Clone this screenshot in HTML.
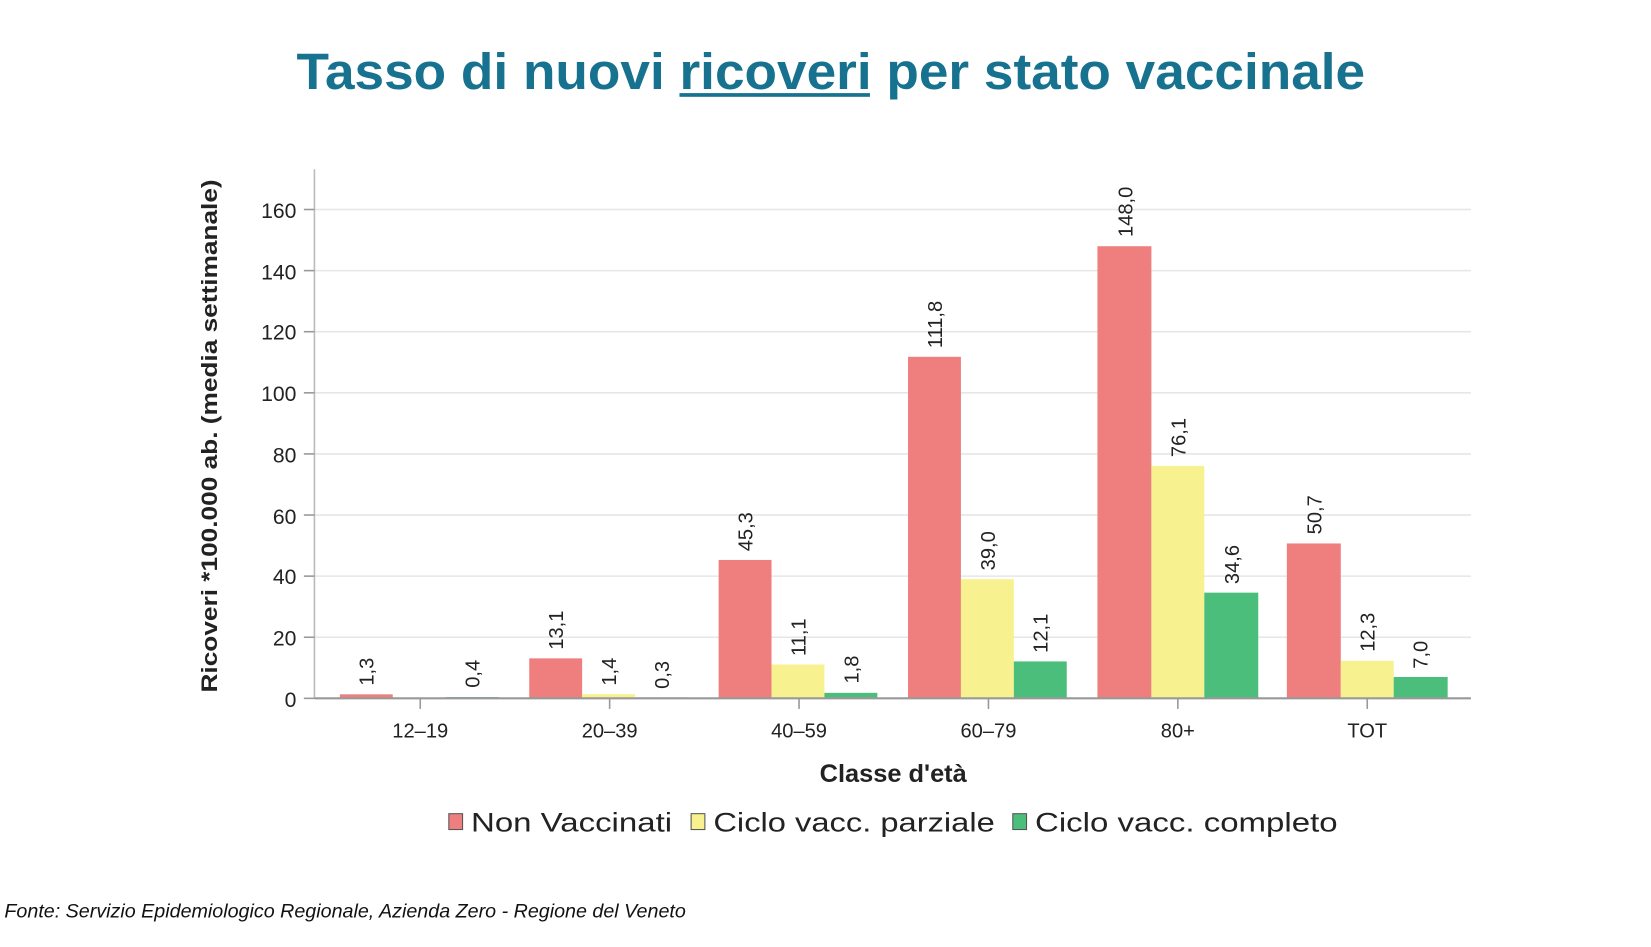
<!DOCTYPE html>
<html><head><meta charset="utf-8"><style>
html,body{margin:0;padding:0;background:#fff;width:1651px;height:947px;overflow:hidden}
svg{display:block}
text{font-family:"Liberation Sans",sans-serif}
</style></head><body>
<svg width="1651" height="947" viewBox="0 0 1560 895" xmlns="http://www.w3.org/2000/svg">
<text x="785" y="84" text-anchor="middle" font-size="48" font-weight="bold" fill="#17728f" textLength="1010" lengthAdjust="spacingAndGlyphs">Tasso di nuovi ricoveri per stato vaccinale</text>
<rect x="642" y="88" width="180" height="3.5" fill="#17728f"/>
<g stroke="#e6e6e6" stroke-width="1.5">
<line x1="297" x2="1390" y1="602.25" y2="602.25"/>
<line x1="297" x2="1390" y1="544.5" y2="544.5"/>
<line x1="297" x2="1390" y1="486.75" y2="486.75"/>
<line x1="297" x2="1390" y1="429" y2="429"/>
<line x1="297" x2="1390" y1="371.25" y2="371.25"/>
<line x1="297" x2="1390" y1="313.5" y2="313.5"/>
<line x1="297" x2="1390" y1="255.75" y2="255.75"/>
<line x1="297" x2="1390" y1="198" y2="198"/>
</g>
<line x1="297" x2="297" y1="160" y2="660" stroke="#bbb" stroke-width="1.5"/>
<g stroke="#999" stroke-width="1.5">
<line x1="287" x2="297" y1="660" y2="660"/><line x1="287" x2="297" y1="602.25" y2="602.25"/><line x1="287" x2="297" y1="544.5" y2="544.5"/><line x1="287" x2="297" y1="486.75" y2="486.75"/><line x1="287" x2="297" y1="429" y2="429"/><line x1="287" x2="297" y1="371.25" y2="371.25"/><line x1="287" x2="297" y1="313.5" y2="313.5"/><line x1="287" x2="297" y1="255.75" y2="255.75"/><line x1="287" x2="297" y1="198" y2="198"/>
<line x1="397" x2="397" y1="660" y2="670"/><line x1="576" x2="576" y1="660" y2="670"/><line x1="755" x2="755" y1="660" y2="670"/><line x1="934" x2="934" y1="660" y2="670"/><line x1="1113" x2="1113" y1="660" y2="670"/><line x1="1292" x2="1292" y1="660" y2="670"/>
</g>
<g font-size="20" fill="#222" text-anchor="end">
<text x="280" y="668">0</text><text x="280" y="610">20</text><text x="280" y="552">40</text><text x="280" y="495">60</text><text x="280" y="437">80</text><text x="280" y="379">100</text><text x="280" y="321">120</text><text x="280" y="264">140</text><text x="280" y="206">160</text>
</g>
<text transform="translate(205,412) rotate(-90)" text-anchor="middle" font-size="21" font-weight="bold" fill="#222" textLength="485" lengthAdjust="spacingAndGlyphs">Ricoveri *100.000 ab. (media settimanale)</text>
<g font-size="19" fill="#222" text-anchor="middle">
<text x="397" y="697">12–19</text><text x="576" y="697">20–39</text><text x="755" y="697">40–59</text><text x="934" y="697">60–79</text><text x="1113" y="697">80+</text><text x="1292" y="697">TOT</text>
</g>
<text x="844" y="739" text-anchor="middle" font-size="24" font-weight="bold" fill="#222">Classe d'età</text>
<g id="bars">
<rect x="321" y="656.2" width="50" height="3.8" fill="#ef7f7f"/>
<rect x="421" y="658.8" width="50" height="1.2" fill="#4cbe7c"/>
<rect x="500" y="622.2" width="50" height="37.8" fill="#ef7f7f"/>
<rect x="550" y="656" width="50" height="4" fill="#f7f28f"/>
<rect x="600" y="659.1" width="50" height="0.9" fill="#4cbe7c"/>
<rect x="679" y="529.2" width="50" height="130.8" fill="#ef7f7f"/>
<rect x="729" y="628" width="50" height="32" fill="#f7f28f"/>
<rect x="779" y="654.8" width="50" height="5.2" fill="#4cbe7c"/>
<rect x="858" y="337.2" width="50" height="322.8" fill="#ef7f7f"/>
<rect x="908" y="547.4" width="50" height="112.6" fill="#f7f28f"/>
<rect x="958" y="625.1" width="50" height="34.9" fill="#4cbe7c"/>
<rect x="1037" y="232.7" width="51" height="427.3" fill="#ef7f7f"/>
<rect x="1088" y="440.3" width="50" height="219.7" fill="#f7f28f"/>
<rect x="1138" y="560.1" width="51" height="99.9" fill="#4cbe7c"/>
<rect x="1216" y="513.6" width="51" height="146.4" fill="#ef7f7f"/>
<rect x="1267" y="624.5" width="50" height="35.5" fill="#f7f28f"/>
<rect x="1317" y="639.8" width="51" height="20.2" fill="#4cbe7c"/>
</g>
<line x1="297" x2="1390" y1="660" y2="660" stroke="#999" stroke-width="2"/>
<g font-size="19" fill="#222">
<text transform="translate(353,648) rotate(-90)">1,3</text>
<text transform="translate(453,650) rotate(-90)">0,4</text>
<text transform="translate(532,614) rotate(-90)">13,1</text>
<text transform="translate(582,648) rotate(-90)">1,4</text>
<text transform="translate(632,651) rotate(-90)">0,3</text>
<text transform="translate(711,521) rotate(-90)">45,3</text>
<text transform="translate(761,620) rotate(-90)">11,1</text>
<text transform="translate(811,646) rotate(-90)">1,8</text>
<text transform="translate(890,329) rotate(-90)">111,8</text>
<text transform="translate(940,539) rotate(-90)">39,0</text>
<text transform="translate(990,617) rotate(-90)">12,1</text>
<text transform="translate(1070,224) rotate(-90)">148,0</text>
<text transform="translate(1120,432) rotate(-90)">76,1</text>
<text transform="translate(1171,552) rotate(-90)">34,6</text>
<text transform="translate(1249,505) rotate(-90)">50,7</text>
<text transform="translate(1299,616) rotate(-90)">12,3</text>
<text transform="translate(1349,632) rotate(-90)">7,0</text>
</g>
<rect x="424" y="769" width="13" height="15" fill="#ef7f7f" stroke="#555" stroke-width="1"/>
<text x="445" y="786" font-size="25" fill="#222" textLength="190" lengthAdjust="spacingAndGlyphs">Non Vaccinati</text>
<rect x="653" y="769" width="13" height="15" fill="#f7f28f" stroke="#555" stroke-width="1"/>
<text x="674" y="786" font-size="25" fill="#222" textLength="266" lengthAdjust="spacingAndGlyphs">Ciclo vacc. parziale</text>
<rect x="957" y="769" width="13" height="15" fill="#4cbe7c" stroke="#555" stroke-width="1"/>
<text x="978" y="786" font-size="25" fill="#222" textLength="286" lengthAdjust="spacingAndGlyphs">Ciclo vacc. completo</text>
<text x="4" y="867" font-size="18" font-style="italic" fill="#111" textLength="644" lengthAdjust="spacingAndGlyphs">Fonte: Servizio Epidemiologico Regionale, Azienda Zero - Regione del Veneto</text>
</svg>
</body></html>
